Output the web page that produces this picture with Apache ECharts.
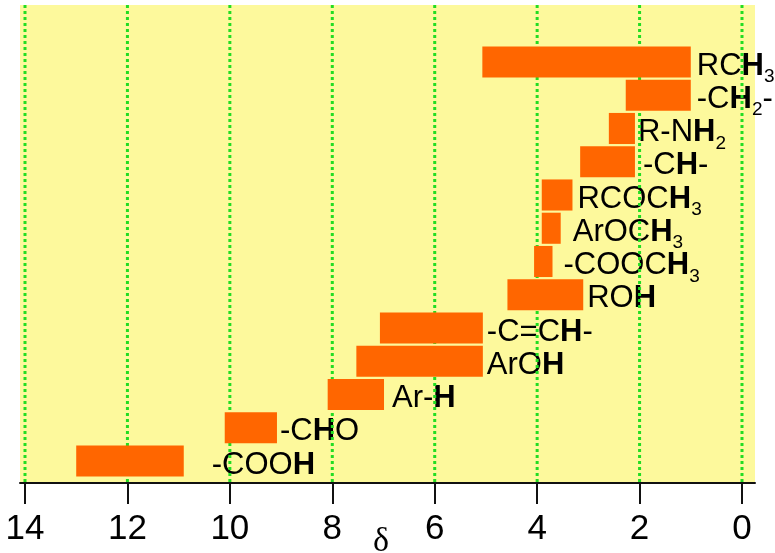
<!DOCTYPE html>
<html><head><meta charset="utf-8">
<script src="https://cdn.jsdelivr.net/npm/echarts@6/dist/echarts.min.js"></script>
<style>html,body{margin:0;padding:0;background:#fff}#c{width:775px;height:553px}</style>
</head><body><div id="c"></div>
<script>
// ---- data ----
const groups = ['RCH3', '-CH2-', 'R-NH2', '-CH-', 'RCOCH3', 'ArOCH3', '-COOCH3', 'ROH', '-C=CH-', 'ArOH', 'Ar-H', '-CHO', '-COOH'];
const labels = [
  '{n|RC}{b|H}{s|3}',
  '{n|-C}{b|H}{s|2}{n|-}',
  '{n|R-N}{b|H}{s|2}',
  '{n|-C}{b|H}{n|-}',
  '{n|RCOC}{b|H}{s|3}',
  '{n|ArOC}{b|H}{s|3}',
  '{n|-COOC}{b|H}{s|3}',
  '{n|RO}{b|H}',
  '{n|-C=C}{b|H}{n|-}',
  '{n|ArO}{b|H}',
  '{n|Ar-}{b|H}',
  '{n|-C}{b|H}{n|O}',
  '{n|-COO}{b|H}'
];
const shiftLow  = [1.00, 1.00, 2.09, 2.09, 3.31, 3.54, 3.70, 3.10, 5.06, 5.06, 6.99, 9.08, 10.90];
const shiftHigh = [5.07, 2.27, 2.60, 3.16, 3.91, 3.91, 4.06, 4.58, 7.07, 7.53, 8.09, 10.10, 13.00];
const tickValues = [0, 2, 4, 6, 8, 10, 12, 14];
const axisTitle = 'δ';

// ---- layout / style ----
const labelGap = [6, 6, 3, 8, 5, 12, 11, 4, 4, 4, 8, 3, 28];
const ORANGE = '#ff6600', GREEN = '#22dd22', YELLOW = '#fdf99c';
const SANS = '"Liberation Sans", Arial, sans-serif';
const NARROW = '"Liberation Sans Narrow", "Liberation Sans", Arial, sans-serif';

const chart = echarts.init(document.getElementById('c'), null, {renderer: 'canvas'});
const barData = groups.map((g, i) => [shiftLow[i], shiftHigh[i], i]);

const rich = {
  n: {fontSize: 31, fontFamily: SANS, lineHeight: 31, verticalAlign: 'top', color: '#000'},
  b: {fontSize: 31, fontFamily: SANS, fontWeight: 'bold', lineHeight: 31, verticalAlign: 'top', color: '#000'},
  s: {fontSize: 19, fontFamily: SANS, lineHeight: 19, padding: [17, 0, 0, 0], verticalAlign: 'top', color: '#000'}
};

const option = {
  animation: false,
  grid: {left: 20, right: 20, top: 5, bottom: 70, show: true, backgroundColor: YELLOW, borderWidth: 0,
         containLabel: false, outerBoundsMode: 'none'},
  xAxis: {
    type: 'value', inverse: true, min: -0.2538, max: 14.0976,
    axisLine: {show: true, onZero: false, lineStyle: {color: '#111', width: 2}},
    axisTick: {show: true, customValues: tickValues, length: 21, lineStyle: {color: '#111', width: 2}},
    axisLabel: {customValues: tickValues, fontSize: 35, fontFamily: NARROW, color: '#000', margin: 29},
    splitLine: {show: false},
    name: axisTitle, nameLocation: 'middle', nameGap: 42, nameMoveOverlap: false,
    nameTextStyle: {fontSize: 34, fontFamily: '"Liberation Serif", "DejaVu Serif", serif', color: '#000',
                    padding: [0, 13, 0, 0]}
  },
  yAxis: {type: 'value', inverse: true, min: -1.714, max: 12.662, show: false},
  series: [
    {
      type: 'custom', z: 1, data: barData, encode: {x: [0, 1], y: 2},
      renderItem: function (params, api) {
        const i = api.value(2);
        const p = api.coord([api.value(0), i]);
        return {
          type: 'text',
          style: {
            x: p[0] + labelGap[i], y: p[1] + 4, text: labels[i], rich: rich,
            align: 'left', verticalAlign: 'middle'
          }
        };
      }
    },
    {
      type: 'custom', z: 2, data: tickValues.map(v => [v]), encode: {x: 0},
      renderItem: function (params, api) {
        const cs = params.coordSys;
        const x = api.coord([api.value(0), 0])[0];
        return {
          type: 'line',
          shape: {x1: x, y1: cs.y, x2: x, y2: cs.y + cs.height},
          style: {stroke: GREEN, lineWidth: 3, lineDash: [3, 3]}
        };
      }
    },
    {
      type: 'custom', z: 3, data: barData, encode: {x: [0, 1], y: 2},
      renderItem: function (params, api) {
        const i = api.value(2);
        const a = api.coord([api.value(1), i]);
        const b = api.coord([api.value(0), i]);
        const h = api.size([0, 1])[1] * 0.935;
        return {
          type: 'rect',
          shape: {x: a[0], y: a[1] - h / 2, width: b[0] - a[0], height: h},
          style: {fill: ORANGE}
        };
      }
    }
  ]
};
chart.setOption(option);
</script>
</body></html>
